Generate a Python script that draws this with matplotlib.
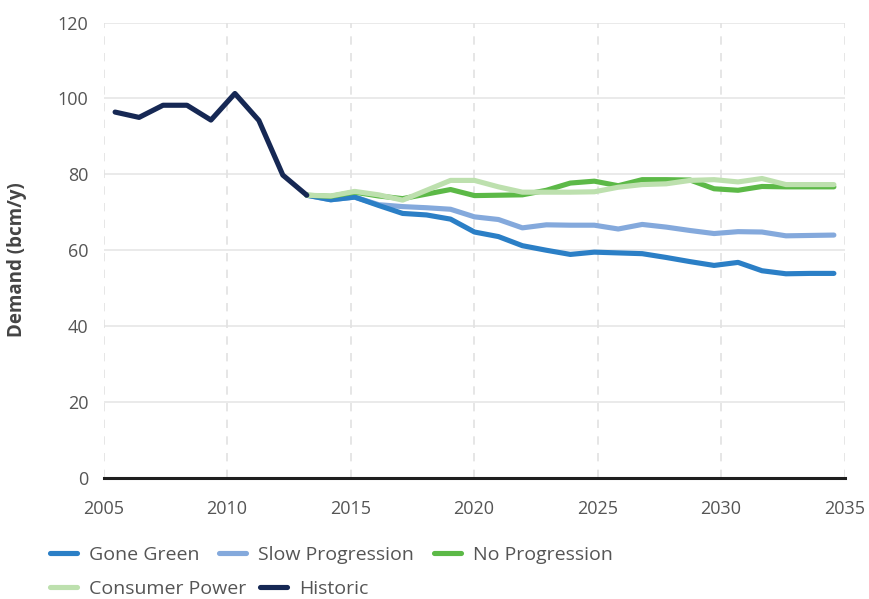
import numpy as np
import matplotlib
matplotlib.use("Agg")
from matplotlib import pyplot as plt

plt.rcParams['font.family'] = ['Open Sans', 'DejaVu Sans']

# data (bcm/y)
hist_years = [2005, 2006, 2007, 2008, 2009, 2010, 2011, 2012, 2013]
historic = [96.4, 95.0, 98.2, 98.2, 94.3, 101.3, 94.2, 79.8, 74.5]

scen_years = list(range(2013, 2036))
gone_green = [74.5, 73.3, 74.0, 71.8, 69.7, 69.3, 68.2, 64.8, 63.6, 61.2, 60.0, 58.9,
              59.5, 59.3, 59.1, 58.1, 57.0, 56.0, 56.8, 54.6, 53.8, 53.9, 53.9]
slow_progression = [74.5, 73.3, 74.0, 72.0, 71.5, 71.2, 70.8, 68.8, 68.1, 65.9, 66.7, 66.6,
                    66.6, 65.6, 66.8, 66.1, 65.2, 64.4, 64.9, 64.8, 63.8, 63.9, 64.0]
no_progression = [74.5, 74.2, 75.3, 74.3, 73.6, 74.8, 76.0, 74.4, 74.5, 74.6, 75.8, 77.7,
                  78.2, 77.0, 78.6, 78.6, 78.5, 76.2, 75.8, 76.8, 76.7, 76.7, 76.7]
consumer_power = [74.5, 74.3, 75.5, 74.6, 73.2, 75.8, 78.4, 78.4, 76.7, 75.3, 75.3, 75.3,
                  75.4, 76.6, 77.3, 77.5, 78.4, 78.6, 78.0, 78.9, 77.3, 77.3, 77.3]

labels = ['Gone Green', 'Slow Progression', 'No Progression', 'Consumer Power', 'Historic']
colors = ['#2b7fc6', '#84a9dc', '#5cb947', '#bde0ae', '#162854']


# points sit a little off the year gridlines in the original
def xpos(years):
    return 2005.47 + (np.array(years) - 2005) * 0.97


fig = plt.figure(figsize=(8.69, 5.99), dpi=100)
ax = fig.add_axes([103.5 / 869, 121 / 599, 741 / 869, 455.5 / 599])

series = [gone_green, slow_progression, no_progression, consumer_power]
zorders = [3, 2, 4, 5]
handles = []
for vals, lab, col, z in zip(series, labels[:4], colors[:4], zorders):
    h, = ax.plot(xpos(scen_years), vals, color=col, lw=3.7, label=lab, zorder=z,
                 solid_capstyle='round', solid_joinstyle='round')
    handles.append(h)
h, = ax.plot(xpos(hist_years), historic, color=colors[4], lw=3.7, label=labels[4], zorder=6,
             solid_capstyle='round', solid_joinstyle='round')
handles.append(h)

ax.set_xlim(2005, 2035)
ax.set_ylim(0, 120)
ax.set_xticks(range(2005, 2036, 5))
ax.set_yticks(range(0, 121, 20))

for yv in range(20, 121, 20):
    ax.axhline(yv, color='#e6e6e6', lw=1.2, zorder=0)
for xv in range(2005, 2036, 5):
    ax.axvline(xv, color='#e2e2e2', lw=1.2, ls=(0, (5, 5)), zorder=0)
ax.axhline(0, color='#1e1e1e', lw=2.2, zorder=7, clip_on=False)

for s in ax.spines.values():
    s.set_visible(False)
ax.tick_params(axis='x', length=0, pad=16, labelsize=13, labelcolor='#555555')
ax.tick_params(axis='y', length=0, pad=11, labelsize=13, labelcolor='#555555')

fig.text(17 / 869, (599 - 260) / 599, 'Demand (bcm/y)', rotation=90, ha='center', va='center',
         fontsize=13.5, fontweight='bold', color='#444444')

leg_kw = dict(frameon=False, borderpad=0, borderaxespad=0, handlelength=1.4,
              handletextpad=0.62, fontsize=14, labelcolor='#555555')
leg1 = fig.legend(handles[:3], labels[:3], ncol=3, loc='center left',
                  bbox_to_anchor=(50 / 869, (599 - 555) / 599), columnspacing=1.0, **leg_kw)
leg2 = fig.legend(handles[3:], labels[3:], ncol=2, loc='center left',
                  bbox_to_anchor=(50 / 869, (599 - 589) / 599), columnspacing=0.7, **leg_kw)
for leg in (leg1, leg2):
    for ln in leg.get_lines():
        ln.set_linewidth(3.7)
        ln.set_solid_capstyle('round')

fig.savefig('out.png', dpi=100)
